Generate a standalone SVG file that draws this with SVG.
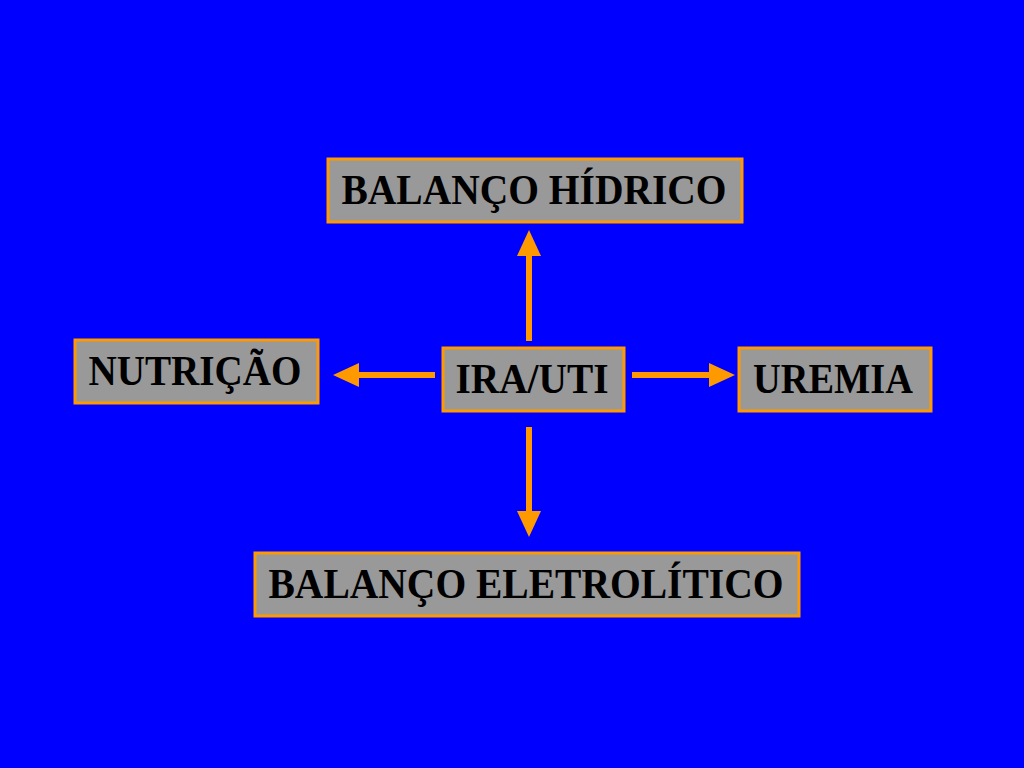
<svg xmlns="http://www.w3.org/2000/svg" width="1024" height="768" viewBox="0 0 1024 768">
<defs>
<style>
.box{fill:#999999;stroke:#FF9900;stroke-width:3}
.lbl{font-family:"Liberation Serif","Times New Roman",serif;font-weight:bold;font-size:43px;fill:#000;text-anchor:middle}
.con{stroke:#FF9900;stroke-width:6;fill:none}
.head{fill:#FF9900}
</style>
</defs>
<rect width="1024" height="768" fill="#0000FF"/>
<g id="n-hidrico"><rect class="box" x="328" y="159" width="414" height="63"/><text class="lbl" x="534" y="204" textLength="385" lengthAdjust="spacingAndGlyphs">BALANÇO HÍDRICO</text></g>
<g id="n-nutricao"><rect class="box" x="75" y="340" width="243" height="63"/><text class="lbl" x="195" y="385" textLength="213" lengthAdjust="spacingAndGlyphs">NUTRIÇÃO</text></g>
<g id="n-ira"><rect class="box" x="443" y="348" width="181" height="63"/><text class="lbl" x="532" y="393" textLength="153" lengthAdjust="spacingAndGlyphs">IRA/UTI</text></g>
<g id="n-uremia"><rect class="box" x="739" y="348" width="192" height="63"/><text class="lbl" x="833" y="393" textLength="160" lengthAdjust="spacingAndGlyphs">UREMIA</text></g>
<g id="n-eletrolitico"><rect class="box" x="255" y="553" width="544" height="63"/><text class="lbl" x="526" y="598" textLength="515" lengthAdjust="spacingAndGlyphs">BALANÇO ELETROLÍTICO</text></g>
<g id="connectors">
<line class="con" x1="529" y1="341" x2="529" y2="252"/><polygon class="head" points="529,230 517,256 541,256"/>
<line class="con" x1="435" y1="375" x2="355" y2="375"/><polygon class="head" points="333,375 359,363 359,387"/>
<line class="con" x1="632" y1="375" x2="712" y2="375"/><polygon class="head" points="735,375 709,363 709,387"/>
<line class="con" x1="529" y1="427" x2="529" y2="515"/><polygon class="head" points="529,537 517,511 541,511"/>
</g>
</svg>
